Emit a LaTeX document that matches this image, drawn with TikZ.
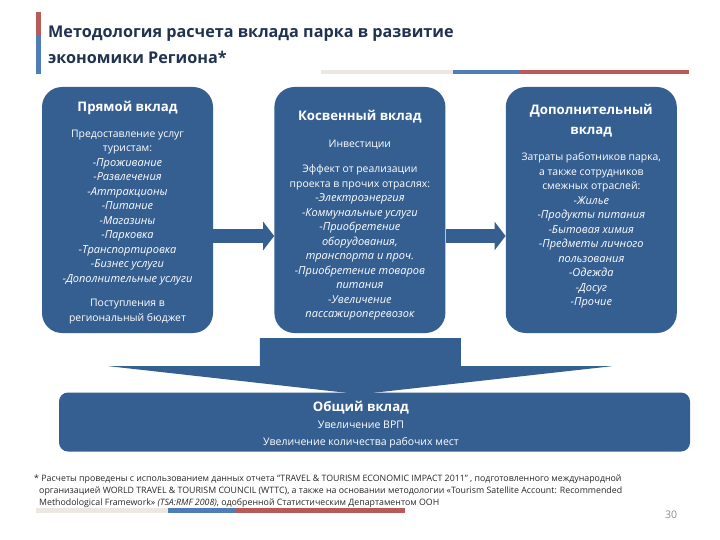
\documentclass[tikz,border=0pt]{standalone}
\usepackage{fontspec}
\setmainfont{Open Sans}
\usepackage{tikz}
\usetikzlibrary{positioning}
\usetikzlibrary{arrows.meta}
\definecolor{boxblue}{HTML}{365F91}
\definecolor{barred}{HTML}{B85A57}
\definecolor{barblue}{HTML}{4F7DB8}
\definecolor{barbeige}{HTML}{ECE8E1}
\definecolor{titleink}{HTML}{1F3350}
\newcommand{\boxhead}[1]{{\bfseries\fontsize{13.2}{14}\selectfont #1}}
\newcommand{\boxitem}{\itshape\fontsize{11}{14.5}\selectfont}
\begin{document}
\begin{tikzpicture}[x=1pt,y=-1pt,
  main box/.style={rectangle,rounded corners=20pt,fill=boxblue,text=white,align=center,inner sep=0pt,minimum width=171pt,minimum height=246pt,font=\fontsize{10.4}{14.5}\selectfont},
  total box/.style={rectangle,rounded corners=9pt,fill=boxblue,inner sep=0pt,minimum width=631pt,minimum height=59pt},
  total text/.style={text=white,align=center,inner sep=0pt,font=\fontsize{10.5}{17}\selectfont},
  fat arrow/.style={-{Triangle[length=11pt,width=28pt]},boxblue,line width=13pt}]
  \useasboundingbox (0,0) rectangle (720,540);

  \node[main box] (direct) at (127.5,210) {\rule{0pt}{15pt}\boxhead{Прямой вклад}\\[11pt]
    Предоставление услуг\\ туристам:\\ \boxitem -Проживание\\ \boxitem -Развлечения\\ \boxitem -Аттракционы\\ \boxitem -Питание\\ \boxitem -Магазины\\ \boxitem -Парковка\\ \boxitem -Транспортировка\\ \boxitem -Бизнес услуги\\ \boxitem -Дополнительные услуги\\[10pt]
    Поступления в\\ региональный бюджет};
  \node[main box] (indirect) [right=61pt of direct] {~\\[6.5pt] \boxhead{Косвенный вклад}\\[12pt]
    Инвестиции\\[11pt]
    Эффект от реализации\\ проекта в прочих отраслях:\\ \boxitem -Электроэнергия\\ \boxitem -Коммунальные услуги\\ \boxitem -Приобретение\\ \boxitem оборудования,\\ \boxitem транспорта и проч.\\ \boxitem -Приобретение товаров\\ \boxitem питания\\ \boxitem -Увеличение\\ \boxitem пассажироперевозок};
  \node[main box] (extra) [right=60pt of indirect] {\boxhead{Дополнительный}\\[5.5pt] \boxhead{вклад}\\[12pt]
    Затраты работников парка,\\ а также сотрудников\\ смежных отраслей:\\ \boxitem -Жилье\\ \boxitem -Продукты питания\\ \boxitem -Бытовая химия\\ \boxitem -Предметы личного\\ \boxitem пользования\\ \boxitem -Одежда\\ \boxitem -Досуг\\ \boxitem -Прочие\\[-4pt]~};
  \node[total box] (total) at (374.5,422) {};
  \node[total text] (totaltext) at (361,424.5) {\boxhead{Общий вклад}\\ Увеличение ВРП\\ Увеличение количества рабочих мест};

  % arrows between the boxes
  \draw[fat arrow] ([yshift=-26pt]direct.east) -- ([yshift=-26pt]indirect.west);
  \draw[fat arrow] ([yshift=-26pt]indirect.east) -- ([yshift=-26pt]extra.west);
  \coordinate (bigstart) at ([yshift=-5pt]indirect.south);
  \coordinate (bigtip) at ([yshift=-2pt]indirect.south |- total.north);
  \fill[boxblue] ([xshift=-100pt]bigstart) -- ([xshift=101pt]bigstart) -- ([xshift=101pt,yshift=-28pt]bigstart) -- ([xshift=252pt,yshift=-28pt]bigstart) -- (bigtip) -- ([xshift=-251pt,yshift=-28pt]bigstart) -- ([xshift=-100pt,yshift=-28pt]bigstart) -- cycle;

  % header
  \fill[barred] (36,12) rectangle (41,36);
  \fill[barblue] (36,36) rectangle (41,74);
  \node[anchor=west,inner sep=0pt,align=left,text=titleink,font=\bfseries\fontsize{16.2}{26}\selectfont] (title) at (48,44.5) {Методология расчета вклада парка в развитие\\ экономики Региона*};
  \fill[barbeige] (321,70) rectangle (453,74);
  \fill[barblue] (453,70) rectangle (520,74);
  \fill[barred] (520,70) rectangle (689,74);

  % footnote
  \node[anchor=north west,inner sep=0pt,align=left,text=black!85,font=\fontsize{8.8}{12}\selectfont] (note) at (34,475) {* Расчеты проведены с использованием данных отчета “TRAVEL \& TOURISM ECONOMIC IMPACT 2011” , подготовленного международной\\
  \hspace*{5pt}организацией WORLD TRAVEL \& TOURISM COUNCIL (WTTC), а также на основании методологии «Tourism Satellite Account: Recommended\\
  \hspace*{5pt}Methodological Framework» \textit{(TSA:RMF 2008)}, одобренной Статистическим Департаментом ООН};
  \fill[barbeige] (36,508) rectangle (168,513);
  \fill[barblue] (168,508) rectangle (236,513);
  \fill[barred] (236,508) rectangle (405,513);
  \node[text=black!45,inner sep=0pt,font=\fontsize{10.5}{12}\selectfont] (page) at (671,515) {30};
\end{tikzpicture}
\end{document}
